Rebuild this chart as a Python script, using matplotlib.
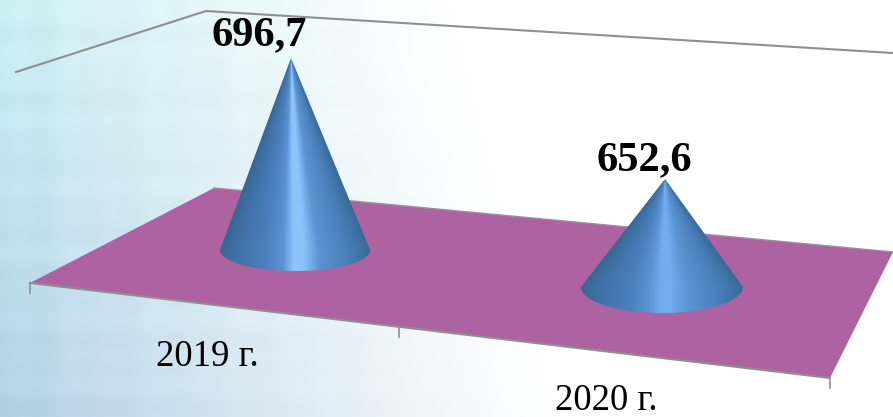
import numpy as np
import matplotlib
matplotlib.use("Agg")
import matplotlib.pyplot as plt
from matplotlib.colors import LinearSegmentedColormap
from matplotlib.patches import Polygon

# data
categories = ["2019 г."]
categories.append("2020 г.")
values = [696.7, 652.6]
value_labels = ["696,7", "652,6"]

# layout (pixels of the picture)
W, H = 893, 417
AXIS_BASE = 595.9
PX_PER_UNIT = 1.905
cone_x = [295, 662]
apex_dx = [-4, 3]
cone_floor_y = [250, 287]
cone_rx = [75, 81]
cone_ry = [21, 26]
cone_light = ["#8cc3fb", "#72abee"]
label_xy = [(259, 45), (644, 170)]
cat_xy = [(207, 366), (606, 410)]

fig = plt.figure(figsize=(W / 100, H / 100), dpi=100)
ax = fig.add_axes([0, 0, 1, 1])
ax.set_xlim(0, W)
ax.set_ylim(H, 0)
ax.axis("off")

# background
yy, xx = np.mgrid[0:H, 0:W]
fx = xx / W
fy = yy / H
strength = np.clip(1 - fx / (0.50 + 0.12 * fy), 0, 1) ** 1.1
plaid = (0.010 * np.sin(xx / 9.0) * np.sin(xx / 31.0)
         + 0.012 * np.sin(yy / 7.0) * np.sin(yy / 23.0)) * strength
tint = np.stack([0.80 - 0.10 * fy,
                 0.94 - 0.12 * fy,
                 0.96 - 0.06 * fy], axis=-1)
bg = np.ones((H, W, 3))
for c in range(3):
    bg[..., c] = 1 - (1 - tint[..., c]) * strength + plaid
ax.imshow(np.clip(bg, 0, 1), extent=(0, W, H, 0), aspect="auto", zorder=0)

# back wall outline and floor
grey = "#8f8f8f"
ax.plot([16, 206, 893], [72, 11, 53], color=grey, lw=1.5, zorder=1)
ax.add_patch(Polygon([(30, 283), (214, 188), (893, 252), (830, 378)],
                     closed=True, facecolor="#ad62a2", edgecolor="none", zorder=2))
ax.plot([214, 893], [188, 252], color="#a08aa0", lw=1.0, zorder=2)
ax.plot([30, 830], [283, 378], color=grey, lw=1.5, zorder=2)
for tx, ty in [(30, 283), (399, 327), (830, 378)]:
    ax.plot([tx, tx], [ty, ty + 10], color=grey, lw=1.2, zorder=2)


def draw_cone(value, x0, dx, floor, rx, ry, light):
    top = floor - (value - AXIS_BASE) * PX_PER_UNIT
    ax_x = x0 + dx
    height = floor - top
    # silhouette: apex + lower half of the base ellipse
    th = np.linspace(0, np.pi, 120)
    pts = [(ax_x, top)] + [(x0 + rx * np.cos(t), floor + ry * np.sin(t)) for t in th]
    cmap = LinearSegmentedColormap.from_list(
        "cone",
        [(0.0, "#376792"), (0.12, "#3f72a6"), (0.30, "#4a80bd"), (0.42, "#5a94d2"),
         (0.49, light), (0.56, light), (0.66, "#5a94d2"), (0.85, "#4a80ba"), (1.0, "#386a96")])
    ys = np.arange(int(top) - 1, int(floor + ry) + 2)
    xs = np.arange(int(x0 - rx) - 1, int(x0 + rx) + 2)
    gx, gy = np.meshgrid(xs + 0.5, ys + 0.5)
    frac = np.clip((gy - top) / height, 0.02, 1.0)
    centre = ax_x + (x0 - ax_x) * frac
    t = np.clip((gx - centre) / (rx * frac) * 0.5 + 0.5, 0, 1)
    im = ax.imshow(t, extent=(xs[0], xs[-1] + 1, ys[-1] + 1, ys[0]), aspect="auto",
                   cmap=cmap, vmin=0, vmax=1, zorder=3, interpolation="bilinear")
    clip = Polygon(pts, closed=True, transform=ax.transData, facecolor="none", edgecolor="none")
    ax.add_patch(clip)
    im.set_clip_path(clip)


for i, v in enumerate(values):
    draw_cone(v, cone_x[i], apex_dx[i], cone_floor_y[i], cone_rx[i], cone_ry[i], cone_light[i])
    ax.text(label_xy[i][0], label_xy[i][1], value_labels[i], family="Liberation Serif",
            weight="bold", fontsize=30.5, ha="center", va="baseline", color="black", zorder=5)
    ax.text(cat_xy[i][0], cat_xy[i][1], categories[i], family="Liberation Serif",
            fontsize=26.5, ha="center", va="baseline", color="black", zorder=5)

ax.set_xlim(0, W)
ax.set_ylim(H, 0)
fig.savefig("out.png", dpi=100)
